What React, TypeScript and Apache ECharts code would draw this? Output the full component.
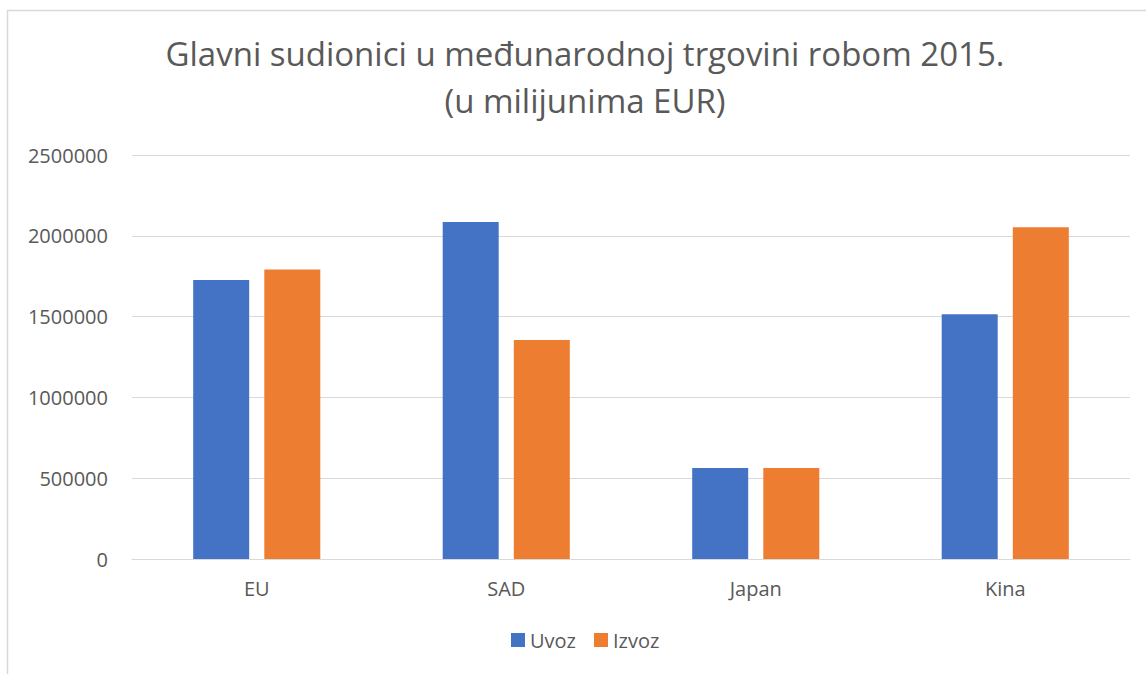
import React, { useEffect, useRef } from "react";
import * as echarts from "echarts";

const categories = ["EU", "SAD", "Japan", "Kina"];
const uvoz = [1726000, 2085000, 563000, 1515000];
const izvoz = [1792000, 1355000, 563000, 2053000];
const seriesNames = ["Uvoz", "Izvoz"];
const titleText = "Glavni sudionici u međunarodnoj trgovini robom 2015.\n(u milijunima EUR)";

export default function App() {
  const ref = useRef<HTMLDivElement>(null);
  useEffect(() => {
    const chart = echarts.init(ref.current!, null, { renderer: "svg" });
    const font = "Open Sans";
    chart.setOption({
      animation: false,
      backgroundColor: "#ffffff",
      textStyle: { fontFamily: font },
      title: {
        text: titleText,
        left: 585,
        top: 30,
        padding: 0,
        textAlign: "center",
        textStyle: {
          fontFamily: font,
          fontSize: 33,
          fontWeight: "normal",
          color: "#595959",
          lineHeight: 47,
        },
      },
      legend: {
        data: seriesNames,
        top: 630,
        left: 511,
        padding: 0,
        itemWidth: 14,
        itemHeight: 14,
        itemGap: 18,
        icon: "rect",
        textStyle: { fontFamily: font, fontSize: 20, color: "#595959" },
      },
      grid: { left: 132, right: 16, top: 155, bottom: 115, containLabel: false },
      xAxis: {
        type: "category",
        data: categories,
        axisLine: { lineStyle: { color: "#d9d9d9", width: 1 } },
        axisTick: { show: false },
        axisLabel: { fontFamily: font, fontSize: 20, color: "#595959", margin: 19 },
      },
      yAxis: {
        type: "value",
        min: 0,
        max: 2500000,
        interval: 500000,
        axisLine: { show: false },
        axisTick: { show: false },
        splitLine: { lineStyle: { color: "#d9d9d9", width: 1 } },
        axisLabel: {
          fontFamily: font,
          fontSize: 20,
          color: "#595959",
          margin: 24,
          formatter: (v: number) => String(v),
        },
      },
      series: [
        {
          name: seriesNames[0],
          type: "bar",
          data: uvoz,
          barWidth: 56,
          barGap: "27%",
          itemStyle: { color: "#4472c4" },
        },
        {
          name: seriesNames[1],
          type: "bar",
          data: izvoz,
          barWidth: 56,
          barGap: "27%",
          itemStyle: { color: "#ed7d31" },
        },
      ],
      graphic: [
        {
          type: "line",
          shape: { x1: 7.5, y1: 10, x2: 7.5, y2: 674 },
          style: { stroke: "#d9d9d9", lineWidth: 1.5 },
          silent: true,
        },
        {
          type: "line",
          shape: { x1: 7, y1: 10.5, x2: 1146, y2: 10.5 },
          style: { stroke: "#d9d9d9", lineWidth: 1.5 },
          silent: true,
        },
      ],
    });
    return () => chart.dispose();
  }, []);
  return (
    <div
      ref={ref}
      style={{ position: "fixed", left: 0, top: 0, width: 1146, height: 674 }}
    />
  );
}
